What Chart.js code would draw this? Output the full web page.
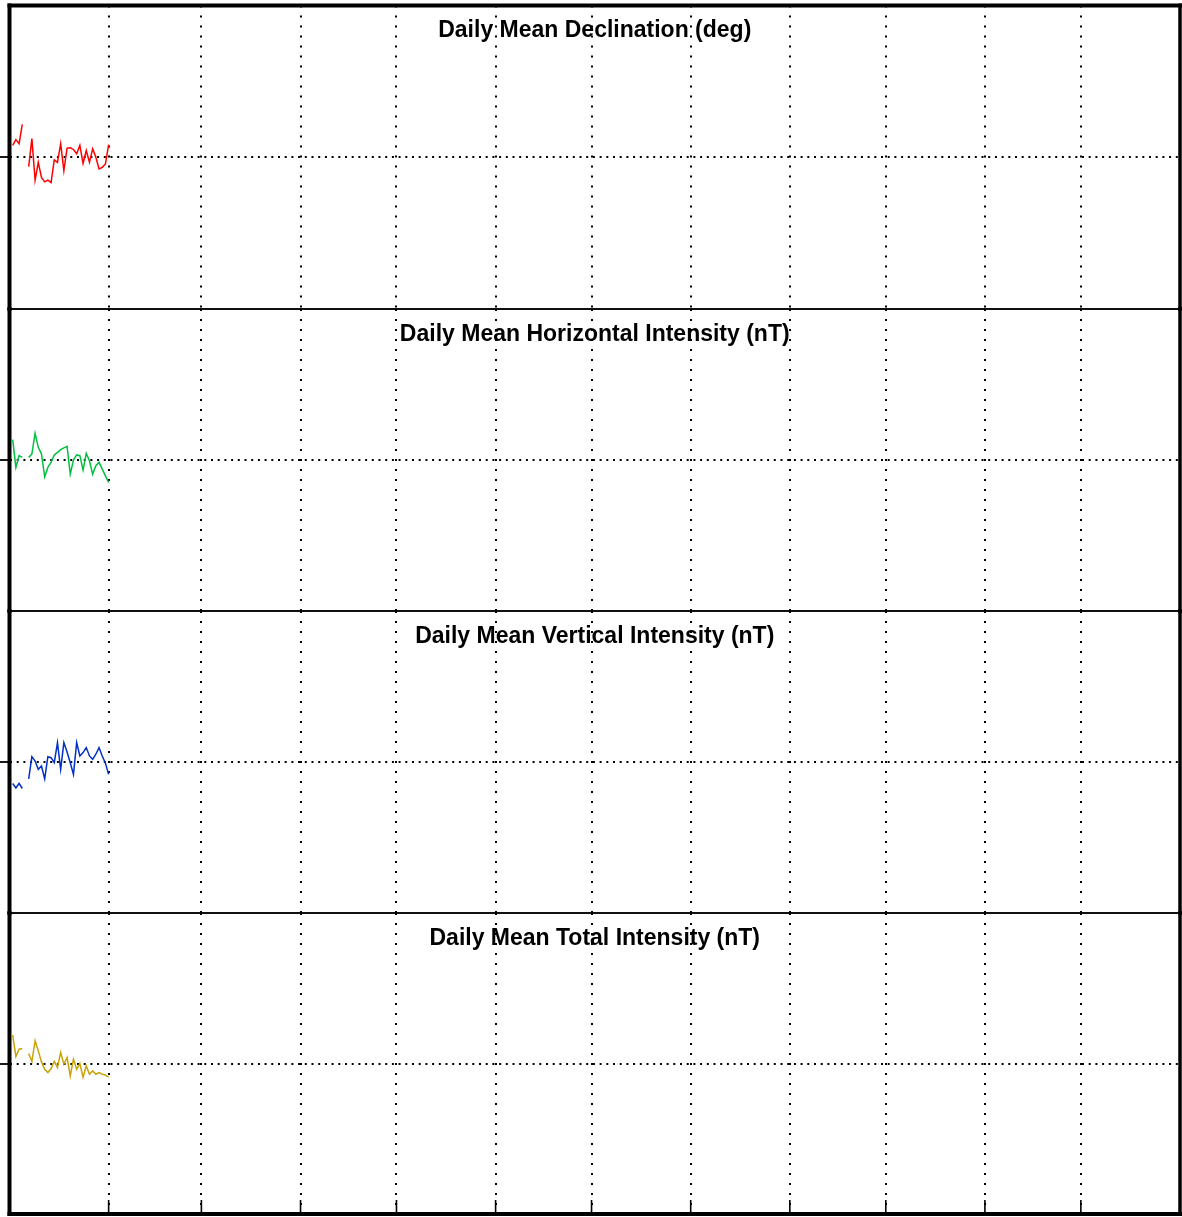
<!DOCTYPE html>
<html>
<head>
<meta charset="utf-8">
<title>Daily Mean Field</title>
<script src="https://cdn.jsdelivr.net/npm/chart.js@4.4.1/dist/chart.umd.min.js"></script>
<style>
  html, body { margin: 0; padding: 0; background: #fff; }
  #wrap { position: relative; width: 1182px; height: 1217px; overflow: hidden; }
  #wrap canvas { position: absolute; left: 0; }
</style>
</head>
<body>
<div id="wrap"></div>
<script>
// day of year (leap year, x axis 0..366)
const days = [1, 2, 3, 4, 5, 6, 7, 8, 9, 10, 11, 12, 13, 14, 15, 16,
              17, 18, 19, 20, 21, 22, 23, 24, 25, 26, 27, 28, 29, 30, 31];
// month boundaries -> vertical grid lines
const monthEdges = [31, 60, 91, 121, 152, 182, 213, 244, 274, 305, 335];
// single unlabeled y tick in each panel (values are offsets from it)
const yTicks = [0];

const titles = [
  "Daily Mean Declination (deg)",
  "Daily Mean Horizontal Intensity (nT)",
  "Daily Mean Vertical Intensity (nT)",
  "Daily Mean Total Intensity (nT)"
];

// offsets from the tick line (null = missing day)
const declination = [11.7, 17.4, 13.4, 32.4, null, -9.3, 18.4, -22.6, -5, -20, -24.3,
  -22.6, -25, -2.6, -5, 13.4, -13.3, 9, 9.4, 7.7, 3.4, 11.7, -6, 6.7, -5, 8.4, 0,
  -11.6, -10, -6.6, 12.4];
const horizontal = [20.3, -7.4, 4.3, 2.6, null, 2.6, 6, 26.6, 12.6, 6, -16.7,
  -7.4, -2.4, 5, 7.6, 10.3, 12, 13.6, -14, 0, 5, 4.3, -10, 6.6, -0.7, -14, -5.7,
  -2.4, -9, -15.7, -22.4];
const vertical = [-21.3, -25.7, -21.3, -26.3, null, -16.7, 5.3, 1, -7.3, -4, -16.7,
  5.3, 4.3, -0.7, 19.3, -7.3, 19.3, 10, -0.7, -12.3, 19.3, 6, 9.3, 14.3, 6, 2.7,
  7.7, 14.3, 6, -1.3, -12.3];
const total = [28.3, 7, 14.3, 15, null, 10, 2, 22.6, 12.6, 1.6, -5.7,
  -9, -5, 2, -4, 11, -0.7, 6, -12.4, 4.3, -5.7, 0, -13.7, -2.4, -10.7, -7.4, -10.7,
  -9, -10.7, -11.5, -13.7];

const series = [declination, horizontal, vertical, total];
const colors = ["#ff0000", "#00c040", "#0030c8", "#c8a40a"];

// panel borders (pixel rows)
const panelEdges = [5.5, 309, 611, 913, 1214];

const panelDecor = {
  id: "panelDecor",
  afterDraw(chart, args, opts) {
    const { ctx, chartArea: a, scales } = chart;
    ctx.save();
    ctx.fillStyle = "#000";
    ctx.font = 'bold 23px "Liberation Sans", Arial, sans-serif';
    ctx.textAlign = "center";
    ctx.textBaseline = "middle";
    ctx.fillText(opts.title, (a.left + a.right) / 2, a.top + 25.5);

    ctx.strokeStyle = "#000";
    if (opts.last) {
      // x ticks point inward on the bottom axis
      ctx.lineWidth = 1.6;
      monthEdges.forEach(v => {
        const x = scales.x.getPixelForValue(v);
        ctx.beginPath();
        ctx.moveTo(x, a.bottom);
        ctx.lineTo(x, a.bottom - 14);
        ctx.stroke();
      });
    }
    // frame
    const line = (w, x1, y1, x2, y2) => {
      ctx.lineWidth = w;
      ctx.beginPath();
      ctx.moveTo(x1, y1);
      ctx.lineTo(x2, y2);
      ctx.stroke();
    };
    line(opts.first ? 4 : 1.6, a.left - 2, a.top, a.right + 2, a.top);
    line(opts.last ? 4 : 1.6, a.left - 2, a.bottom, a.right + 2, a.bottom);
    line(4, a.left, a.top - 2, a.left, a.bottom + 2);
    line(3.5, a.right, a.top - 2, a.right, a.bottom + 2);
    ctx.restore();
  }
};

const wrap = document.getElementById("wrap");

series.forEach((vals, i) => {
  const top = Math.max(0, Math.floor(panelEdges[i]) - 6);
  const bottom = Math.ceil(panelEdges[i + 1]) + 6;
  const h = bottom - top;
  const canvas = document.createElement("canvas");
  canvas.width = 1182;
  canvas.height = h;
  canvas.style.top = top + "px";
  canvas.style.width = "1182px";
  canvas.style.height = h + "px";
  wrap.appendChild(canvas);

  new Chart(canvas, {
    type: "line",
    data: {
      datasets: [{
        data: days.map((d, k) => ({ x: d, y: vals[k] })),
        borderColor: colors[i],
        borderWidth: 1.5,
        pointRadius: 0,
        tension: 0,
        spanGaps: false
      }]
    },
    options: {
      responsive: false,
      animation: false,
      events: [],
      layout: {
        padding: {
          left: 0,
          right: 1182 - 1180,
          top: panelEdges[i] - top,
          bottom: bottom - panelEdges[i + 1]
        }
      },
      plugins: {
        legend: { display: false },
        tooltip: { enabled: false },
        panelDecor: { title: titles[i], first: i === 0, last: i === series.length - 1 }
      },
      scales: {
        x: {
          type: "linear",
          min: 0,
          max: 366,
          afterBuildTicks: s => { s.ticks = monthEdges.map(v => ({ value: v })); },
          afterFit: s => { s.height = 0; },
          ticks: { display: false },
          grid: { color: "#000", lineWidth: 2, drawTicks: false },
          border: { display: false, dash: [2, 8] }
        },
        y: {
          min: -150,
          max: 150,
          afterBuildTicks: s => { s.ticks = yTicks.map(v => ({ value: v })); },
          afterFit: s => { s.width = 9.5; },
          ticks: { display: false },
          grid: { color: "#000", lineWidth: 2, tickLength: 9.5, tickWidth: 1.8, tickColor: "#000" },
          border: { display: false, dash: [2, 4.7] }
        }
      }
    },
    plugins: [panelDecor]
  });
});
</script>
</body>
</html>
